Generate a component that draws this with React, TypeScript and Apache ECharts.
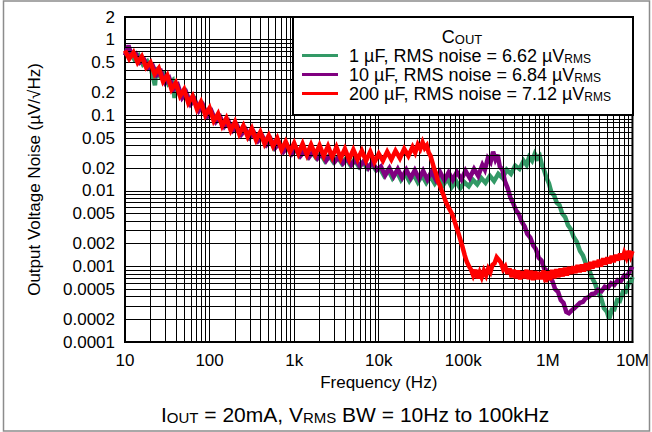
import React, { useEffect, useRef } from 'react';
import * as echarts from 'echarts';

const FONT = '"Liberation Sans", Arial, Helvetica, sans-serif';

// ---- tick labels ----
const xTickLabels = ['10', '100', '1k', '10k', '100k', '1M', '10M'];
const yTickValues = [2, 1, 0.5, 0.2, 0.1, 0.05, 0.02, 0.01, 0.005, 0.002, 0.001, 0.0005, 0.0002, 0.0001];
const yTickLabels = ['2', '1', '0.5', '0.2', '0.1', '0.05', '0.02', '0.01', '0.005', '0.002', '0.001', '0.0005', '0.0002', '0.0001'];

// ---- series ----
const seriesNames = ['1 \u00b5F', '10 \u00b5F', '200 \u00b5F'];
const rmsNoise = ['6.62', '6.84', '7.12'];
const seriesColors = ['#339966', '#800080', '#ff0000'];

const greenData: [number, number][] = [
  [10.3, 0.6], [11.5, 0.68], [12.9, 0.55], [14.5, 0.62], [16.3, 0.47], [18.3, 0.52], [20.5, 0.39], [22.6, 0.25],
  [23.5, 0.43], [25.9, 0.33], [29, 0.36], [32.5, 0.26], [36.5, 0.29], [38.5, 0.17], [41, 0.24], [46, 0.19],
  [51.6, 0.21], [58, 0.15], [65, 0.17], [73, 0.12], [82, 0.14], [92, 0.1], [103, 0.115], [115.6, 0.085],
  [130, 0.097], [146, 0.074], [163, 0.085], [183, 0.065], [206, 0.074], [231, 0.057], [259, 0.066], [291, 0.051],
  [326, 0.058], [366, 0.046], [411, 0.053], [461, 0.041], [517, 0.047], [580, 0.037], [651, 0.043], [730, 0.034],
  [820, 0.039], [920, 0.031], [1030, 0.036], [1160, 0.029], [1300, 0.034], [1460, 0.028], [1635, 0.032],
  [1835, 0.027], [2060, 0.031], [2310, 0.025], [2590, 0.029], [2910, 0.024], [3265, 0.028], [3660, 0.023],
  [4110, 0.027], [4610, 0.022], [5170, 0.026], [5800, 0.021], [6510, 0.024], [7300, 0.02], [8190, 0.023],
  [9190, 0.019], [10300, 0.02], [11500, 0.016], [12900, 0.019], [14500, 0.0148], [16300, 0.018], [18300, 0.014],
  [20500, 0.017], [23000, 0.0135], [25900, 0.0165], [29000, 0.013], [32500, 0.016], [36500, 0.0128],
  [41000, 0.0155], [46000, 0.0125], [51600, 0.015], [58000, 0.012], [65000, 0.0145], [73000, 0.0112],
  [82000, 0.0135], [92000, 0.0108], [103000, 0.013], [116000, 0.0115], [130000, 0.014], [146000, 0.0122],
  [163000, 0.0148], [183000, 0.0128], [206000, 0.0158], [231000, 0.0135], [259000, 0.0168], [291000, 0.0148],
  [326000, 0.019], [366000, 0.0168], [411000, 0.0215], [461000, 0.0195], [517000, 0.025], [560000, 0.022],
  [600000, 0.028], [650000, 0.025], [700000, 0.031], [750000, 0.027], [800000, 0.029], [850000, 0.022],
  [900000, 0.019], [960000, 0.015], [1030000, 0.0125], [1100000, 0.0095], [1180000, 0.0088], [1270000, 0.007],
  [1370000, 0.0065], [1480000, 0.005], [1600000, 0.0045], [1730000, 0.0035], [1870000, 0.0031], [2000000, 0.0025],
  [2200000, 0.0021], [2400000, 0.0016], [2600000, 0.0014], [2800000, 0.0011], [3000000, 0.00098],
  [3300000, 0.00072], [3600000, 0.0006], [3900000, 0.00046], [4200000, 0.0004], [4600000, 0.00028],
  [5000000, 0.00025], [5300000, 0.0002], [5700000, 0.00027], [6100000, 0.00027], [6600000, 0.00036],
  [7100000, 0.00035], [7700000, 0.00046], [8300000, 0.00046], [9000000, 0.0006], [9600000, 0.00062],
  [10000000, 0.00072],
];

const purpleData: [number, number][] = [
  [10, 0.62], [10.6, 0.75], [11, 0.84], [11.9, 0.62], [13.4, 0.66], [15, 0.5], [16.8, 0.55], [18.9, 0.42],
  [21.2, 0.46], [23.8, 0.34], [26.7, 0.38], [30, 0.27], [33.5, 0.31], [37.6, 0.22], [42.2, 0.25], [47.4, 0.17],
  [53, 0.2], [59.7, 0.14], [67, 0.16], [75, 0.115], [84, 0.135], [95, 0.097], [106, 0.112], [119, 0.082],
  [134, 0.095], [150, 0.071], [168, 0.083], [189, 0.063], [212, 0.073], [238, 0.056], [267, 0.065], [300, 0.051],
  [335, 0.059], [376, 0.046], [422, 0.053], [474, 0.041], [531, 0.048], [596, 0.037], [669, 0.043], [750, 0.033],
  [842, 0.039], [945, 0.031], [1060, 0.036], [1190, 0.029], [1335, 0.034], [1500, 0.028], [1680, 0.033],
  [1890, 0.027], [2120, 0.031], [2380, 0.025], [2670, 0.03], [3000, 0.024], [3360, 0.028], [3770, 0.023],
  [4230, 0.027], [4750, 0.022], [5330, 0.026], [5980, 0.021], [6710, 0.025], [7530, 0.02], [8450, 0.024],
  [9480, 0.019], [10600, 0.021], [11900, 0.016], [13400, 0.02], [15000, 0.0155], [16800, 0.0195], [18900, 0.015],
  [21200, 0.019], [23800, 0.0148], [26700, 0.0188], [30000, 0.0145], [33500, 0.0185], [37600, 0.0142],
  [42200, 0.018], [47400, 0.014], [53000, 0.0178], [59700, 0.0138], [67000, 0.0175], [75000, 0.014],
  [84000, 0.0178], [95000, 0.0142], [106000, 0.0185], [119000, 0.0148], [134000, 0.0195], [150000, 0.0158],
  [168000, 0.022], [180000, 0.019], [195000, 0.027], [210000, 0.024], [225000, 0.033], [240000, 0.026],
  [255000, 0.03], [270000, 0.021], [290000, 0.019], [310000, 0.0135], [335000, 0.0108], [360000, 0.0082],
  [390000, 0.0068], [420000, 0.0055], [455000, 0.0049], [490000, 0.0039], [530000, 0.0034], [570000, 0.0027],
  [620000, 0.0024], [670000, 0.0019], [720000, 0.0017], [780000, 0.0013], [840000, 0.0012], [900000, 0.00095],
  [970000, 0.00088], [1050000, 0.00072], [1130000, 0.00064], [1220000, 0.0005], [1320000, 0.00046],
  [1420000, 0.00036], [1530000, 0.00033], [1650000, 0.00025], [1770000, 0.00024], [1900000, 0.00026],
  [2050000, 0.00028], [2200000, 0.0003], [2400000, 0.00033], [2600000, 0.00034], [2800000, 0.00038],
  [3000000, 0.00039], [3300000, 0.00043], [3600000, 0.00044], [3900000, 0.00049], [4300000, 0.00047],
  [4700000, 0.00054], [5100000, 0.00052], [5600000, 0.0006], [6100000, 0.00057], [6700000, 0.00066],
  [7300000, 0.00064], [8000000, 0.00076], [8700000, 0.00074], [9400000, 0.0009], [10000000, 0.001],
];

const redData: [number, number][] = [
  [10, 0.72], [11.2, 0.56], [12.6, 0.68], [14.1, 0.5], [15.8, 0.6], [17.8, 0.43], [20, 0.5], [22.4, 0.35],
  [25.1, 0.42], [28.2, 0.28], [31.6, 0.34], [35.5, 0.22], [39.8, 0.27], [44.7, 0.18], [50, 0.22], [56, 0.145],
  [63, 0.18], [71, 0.12], [79, 0.15], [89, 0.1], [100, 0.125], [112, 0.084], [126, 0.105], [141, 0.072],
  [158, 0.092], [178, 0.063], [200, 0.082], [224, 0.057], [251, 0.073], [282, 0.052], [316, 0.067], [355, 0.047],
  [398, 0.06], [447, 0.042], [501, 0.054], [562, 0.039], [631, 0.05], [708, 0.035], [794, 0.045], [891, 0.033],
  [1000, 0.043], [1122, 0.031], [1259, 0.042], [1413, 0.03], [1585, 0.041], [1778, 0.03], [1995, 0.04],
  [2239, 0.029], [2512, 0.039], [2818, 0.028], [3162, 0.038], [3548, 0.027], [3981, 0.036], [4467, 0.026],
  [5012, 0.035], [5623, 0.026], [6310, 0.034], [7079, 0.025], [7943, 0.033], [8913, 0.024], [10000, 0.031],
  [11200, 0.025], [12600, 0.033], [14100, 0.026], [15800, 0.034], [17800, 0.027], [20000, 0.036], [22400, 0.029],
  [25100, 0.038], [27000, 0.032], [29000, 0.041], [31000, 0.036], [33000, 0.044], [35000, 0.037], [37000, 0.04],
  [39000, 0.032], [41000, 0.029], [43000, 0.024], [45000, 0.02], [47500, 0.017], [50000, 0.0135],
  [53000, 0.0118], [56000, 0.0098], [59000, 0.0085], [62000, 0.0072], [66000, 0.0062], [70000, 0.0055],
  [74000, 0.0049], [78000, 0.0041], [83000, 0.0033], [88000, 0.0027], [93000, 0.0022], [98000, 0.0018],
  [104000, 0.0014], [110000, 0.00115], [117000, 0.001], [124000, 0.0009], [131000, 0.00076], [139000, 0.0009],
  [147000, 0.0007], [156000, 0.00084], [165000, 0.00072], [175000, 0.00088], [186000, 0.00076], [197000, 0.00094],
  [209000, 0.00084], [221000, 0.00105], [234000, 0.0011], [248000, 0.00132], [263000, 0.00122], [279000, 0.00112],
  [296000, 0.00092], [313000, 0.001], [332000, 0.0008], [352000, 0.00094], [373000, 0.00072], [395000, 0.0009],
  [419000, 0.0007], [444000, 0.00088], [470000, 0.00068], [498000, 0.00086], [528000, 0.0007], [560000, 0.0009],
  [593000, 0.00068], [628000, 0.00088], [666000, 0.00066], [706000, 0.00086], [748000, 0.00068],
  [792000, 0.00084], [840000, 0.00068], [890000, 0.00088], [943000, 0.00062], [1000000, 0.00086],
  [1060000, 0.00066], [1120000, 0.0009], [1190000, 0.0007], [1260000, 0.00092], [1330000, 0.00072],
  [1410000, 0.00094], [1500000, 0.00074], [1590000, 0.00096], [1680000, 0.00076], [1780000, 0.00098],
  [1890000, 0.0008], [2000000, 0.001], [2120000, 0.00082], [2240000, 0.00104], [2380000, 0.00084],
  [2520000, 0.00106], [2670000, 0.00086], [2830000, 0.0011], [3000000, 0.0009], [3180000, 0.00114],
  [3370000, 0.00094], [3570000, 0.00118], [3780000, 0.00098], [4000000, 0.00122], [4240000, 0.001],
  [4500000, 0.00128], [4760000, 0.00106], [5050000, 0.00132], [5350000, 0.0011], [5670000, 0.00138],
  [6000000, 0.00114], [6360000, 0.00142], [6740000, 0.0012], [7140000, 0.00148], [7570000, 0.00124],
  [8000000, 0.00152], [8500000, 0.0013], [9000000, 0.0016], [9500000, 0.00136], [10000000, 0.0016],
];

const allData = [greenData, purpleData, redData];

// log-grid multiples (axis structure)
const xDecades = [10, 100, 1000, 10000, 100000, 1000000];
const yDecades = [0.0001, 0.001, 0.01, 0.1, 1];
const multiples = [1, 2, 3, 4, 5, 6, 7, 8, 9];

function buildOption() {
  const xGrid: any[] = [];
  xDecades.forEach((d) => multiples.forEach((m) => { if (!(d === 10 && m === 1)) xGrid.push({ xAxis: d * m }); }));
  const yGrid: any[] = [];
  yDecades.forEach((d) => multiples.forEach((m) => {
    const v = d * m;
    if (v < 2 && v > 0.0001) {
      const idx = yTickValues.findIndex((t) => Math.abs(t - v) / t < 1e-6);
      if (idx < 0) yGrid.push({ yAxis: v });
    }
  }));
  const yLabelLines = yTickValues.map((v, i) => ({
    yAxis: v,
    label: {
      show: true,
      position: 'start',
      formatter: yTickLabels[i],
      distance: 10,
      color: '#000',
      fontSize: 17,
      fontFamily: FONT,
    },
  }));

  const rich = {
    n: { fontSize: 18, fontFamily: FONT, fontWeight: 'normal', color: '#000', lineHeight: 19, verticalAlign: 'bottom', padding: [0, 0, 0, 6] },
    s: { fontSize: 12, fontFamily: FONT, fontWeight: 'normal', color: '#000', lineHeight: 10, verticalAlign: 'bottom' },
  };

  return {
    animation: false,
    backgroundColor: '#fff',
    textStyle: { fontFamily: FONT },
    grid: {
      left: 125, top: 17, right: 18, bottom: 90,
      show: true, borderColor: '#000', borderWidth: 2, backgroundColor: 'transparent',
    },
    title: [
      {
        text: '{c|C}{o|OUT}',
        left: 462, top: 27, textAlign: 'center', z: 12, padding: 0,
        textStyle: {
          fontWeight: 'normal',
          rich: {
            c: { fontSize: 18, fontFamily: FONT, fontWeight: 'normal', color: '#000', lineHeight: 19, verticalAlign: 'bottom' },
            o: { fontSize: 13, fontFamily: FONT, fontWeight: 'normal', color: '#000', lineHeight: 9, verticalAlign: 'bottom' },
          },
        },
      },
      {
        text: '{n|I}{s|OUT}{n| = 20mA, V}{s|RMS}{n| BW = 10Hz to 100kHz}',
        left: 161, top: 401, z: 12, padding: 0,
        textStyle: {
          fontWeight: 'normal',
          rich: {
            n: { fontSize: 21, fontFamily: FONT, fontWeight: 'normal', color: '#000', lineHeight: 24, verticalAlign: 'bottom' },
            s: { fontSize: 15, fontFamily: FONT, fontWeight: 'normal', color: '#000', lineHeight: 9, verticalAlign: 'bottom' },
          },
        },
      },
    ],
    legend: {
      data: seriesNames,
      orient: 'vertical',
      left: 302, top: 47,
      icon: 'rect',
      itemWidth: 36, itemHeight: 3, itemGap: 1,
      padding: 0, z: 12,
      formatter: (name: string) => {
        const i = seriesNames.indexOf(name);
        return `{n|${name}, RMS noise = ${rmsNoise[i]} \u00b5V}{s|RMS}`;
      },
      textStyle: { rich },
    },
    graphic: [
      {
        type: 'rect', z: 10, silent: true,
        shape: { x: 293, y: 17, width: 340, height: 98 },
        style: { fill: '#fff', stroke: '#000', lineWidth: 2 },
      },
      {
        type: 'rect', z: 0, silent: true,
        shape: { x: 3.5, y: 1, width: 646, height: 430 },
        style: { fill: 'none', stroke: '#8c8c8c', lineWidth: 1.5 },
      },
    ],
    xAxis: {
      type: 'log', logBase: 10, min: 10, max: 10000000, splitNumber: 6,
      name: 'Frequency (Hz)', nameLocation: 'middle', nameGap: 31,
      nameTextStyle: { fontSize: 17, color: '#000', fontFamily: FONT },
      axisLine: { show: true, lineStyle: { color: '#000', width: 2 } },
      axisTick: { show: false },
      splitLine: { show: false },
      axisLabel: {
        color: '#000', fontSize: 17, fontFamily: FONT, margin: 10,
        showMinLabel: true, showMaxLabel: true,
        formatter: (v: number) => xTickLabels[Math.round(Math.log10(v)) - 1] ?? '',
      },
    },
    yAxis: {
      type: 'log', logBase: 10, min: 0.0001, max: 2,
      name: 'Output Voltage Noise (\u00b5V/\u221aHz)', nameLocation: 'middle', nameGap: 82,
      nameTextStyle: { fontSize: 17, color: '#000', fontFamily: FONT },
      axisLine: { show: true, lineStyle: { color: '#000', width: 2 } },
      axisTick: { show: false },
      splitLine: { show: false },
      axisLabel: { show: false },
    },
    series: [
      {
        type: 'line', name: '__grid', data: [], z: 1, silent: true,
        markLine: {
          silent: true, symbol: ['none', 'none'], animation: false, precision: 6,
          lineStyle: { color: '#000', width: 1, type: 'solid', opacity: 1 },
          label: { show: false },
          emphasis: { disabled: true },
          data: [...xGrid, ...yGrid, ...yLabelLines],
        },
      },
      ...allData.map((d, i) => ({
        type: 'line',
        name: seriesNames[i],
        data: d,
        z: 3 + i,
        showSymbol: false,
        symbol: 'none',
        smooth: false,
        color: seriesColors[i],
        lineStyle: { color: seriesColors[i], width: 4.5, join: 'miter', miterLimit: 3, cap: 'butt' },
        emphasis: { disabled: true },
      })),
    ],
  };
}

export default function App() {
  const ref = useRef<HTMLDivElement>(null);
  useEffect(() => {
    if (!ref.current) return;
    const chart = echarts.init(ref.current, null, { renderer: 'svg' });
    chart.setOption(buildOption() as any);
    return () => chart.dispose();
  }, []);
  return (
    <div
      ref={ref}
      style={{ position: 'fixed', left: 0, top: 0, width: 652, height: 432 }}
    />
  );
}
